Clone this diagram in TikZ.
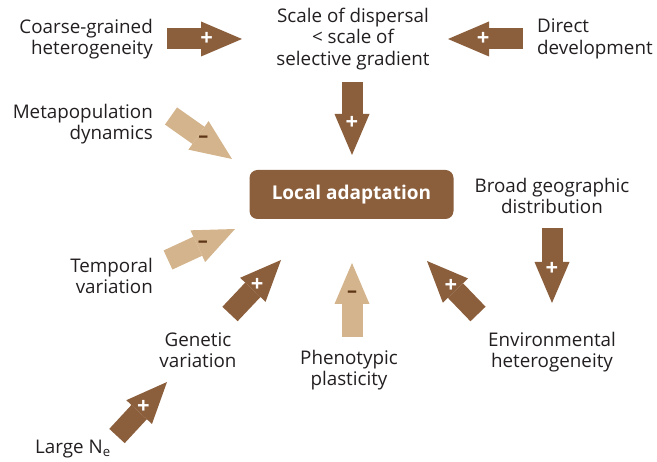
\documentclass[tikz,border=0pt]{standalone}
\usepackage{fontspec}
\setmainfont{Open Sans}
\usetikzlibrary{arrows.meta}
\definecolor{brownarrow}{RGB}{139,94,60}
\definecolor{tanarrow}{RGB}{212,180,140}
\definecolor{minusbrown}{RGB}{92,52,22}
\definecolor{labeltext}{RGB}{35,31,32}

\begin{document}
\begin{tikzpicture}[x=1pt, y=-1pt,
    txt/.style={text=labeltext, inner sep=0pt, font=\fontsize{18.8}{21.5}\selectfont},
    plusarrow/.style={draw=brownarrow, line width=21pt,
      -{Triangle[width=35pt,length=41pt,line width=0pt]}},
    minusarrow/.style={draw=tanarrow, line width=21pt,
      -{Triangle[width=35pt,length=41pt,line width=0pt]}},
    plussign/.style={text=white, inner sep=0pt, font=\fontsize{22}{22}\bfseries\selectfont},
    minussign/.style={text=minusbrown, inner sep=0pt, font=\fontsize{20}{20}\bfseries\selectfont},
    hub/.style={fill=brownarrow, rounded corners=8pt, minimum width=204pt, minimum height=49pt,
      text=white, font=\fontsize{19}{19}\bfseries\selectfont}]
    \useasboundingbox (0,0) rectangle (657,462);
    % Centre
    \node[hub] (local) at (351.5,194.5) {Local adaptation};
    %
    \node[txt, anchor=east, align=right] (coarse) at (153,39) {Coarse-grained\\heterogeneity};
    \node[txt, align=center] (scale) at (353,39) {Scale of dispersal\\< scale of\\selective gradient};
    \node[txt, anchor=west, align=left] (direct) at (537,39) {Direct\\development};
    \node[txt, anchor=east, align=right] (metapop) at (153,124) {Metapopulation\\dynamics};
    \node[txt, align=center] (broad) at (552,196) {Broad geographic\\distribution};
    \node[txt, anchor=east, align=right] (temporal) at (153,276) {Temporal\\variation};
    \node[txt, align=center] (genetic) at (198,350) {Genetic\\variation};
    \node[txt, align=center] (pheno) at (349,370) {Phenotypic\\plasticity};
    \node[txt, align=center] (envhet) at (552,352) {Environmental\\heterogeneity};
    \node[txt, anchor=west] (largene) at (35,449) {Large N\textsubscript{e}};
    % Arrow ends
    \coordinate (coarse-t) at (167,39);   \coordinate (coarse-h) at (242,39);
    \coordinate (direct-t) at (523,39);   \coordinate (direct-h) at (448,39);
    \coordinate (scale-t) at (352,82);    \coordinate (scale-h) at (352,155);
    \coordinate (metapop-t) at (171,116); \coordinate (metapop-h) at (232,159);
    \coordinate (temporal-t) at (168,260);\coordinate (temporal-h) at (235,229);
    \coordinate (genetic-t) at (230,314); \coordinate (genetic-h) at (281,260);
    \coordinate (largene-t) at (117,436); \coordinate (largene-h) at (167,382);
    \coordinate (pheno-t) at (352,337);   \coordinate (pheno-h) at (352,263);
    \coordinate (envhet-t) at (478,314);  \coordinate (envhet-h) at (427,261);
    \coordinate (broad-t) at (552,228);   \coordinate (broad-h) at (552,303);
    % Positive effects
    \draw[plusarrow] (coarse-t) -- node[plussign, pos=0.53] (coarse-s) {+} (coarse-h);
    \draw[plusarrow] (direct-t) -- node[plussign, pos=0.53] (direct-s) {+} (direct-h);
    \draw[plusarrow] (scale-t) -- node[plussign, pos=0.56] (scale-s) {+} (scale-h);
    \draw[plusarrow] (genetic-t) -- node[plussign, pos=0.53] (genetic-s) {+} (genetic-h);
    \draw[plusarrow] (largene-t) -- node[plussign, pos=0.53] (largene-s) {+} (largene-h);
    \draw[plusarrow] (envhet-t) -- node[plussign, pos=0.53] (envhet-s) {+} (envhet-h);
    \draw[plusarrow] (broad-t) -- node[plussign, pos=0.55] (broad-s) {+} (broad-h);
    % Negative effects
    \draw[minusarrow] (metapop-t) -- node[minussign, pos=0.53] (metapop-s) {--} (metapop-h);
    \draw[minusarrow] (temporal-t) -- node[minussign, pos=0.52] (temporal-s) {--} (temporal-h);
    \draw[minusarrow] (pheno-t) -- node[minussign, pos=0.58] (pheno-s) {--} (pheno-h);
\end{tikzpicture}
\end{document}
